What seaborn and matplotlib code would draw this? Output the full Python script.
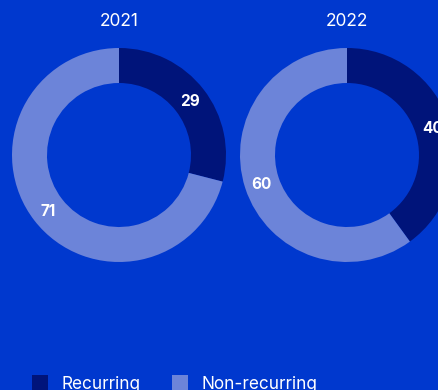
import matplotlib
matplotlib.use("Agg")
import matplotlib.pyplot as plt
from matplotlib.patches import Patch
import seaborn as sns

# Revenue split by year
years = ["2021", "2022"]
categories = ["Recurring", "Non-recurring"]
recurring = [29, 40]
non_recurring = [71, 60]

bg = "#0038CE"
palette = sns.color_palette(["#00147A", "#6C84D9"])

sns.set_theme(style="white", rc={"figure.facecolor": bg, "axes.facecolor": bg})
plt.rcParams["font.family"] = ["Inter", "DejaVu Sans"]

W, H = 439, 390
fig = plt.figure(figsize=(W / 100, H / 100), dpi=100)
ax = fig.add_axes([0, 0, 1, 1])

centers_x = [119, 347]
cy = H - 155
radius = 107
ring = 35

for i, year in enumerate(years):
    vals = [recurring[i], non_recurring[i]]
    wedges, texts, autotexts = ax.pie(
        vals,
        colors=palette,
        startangle=90,
        counterclock=False,
        center=(centers_x[i], cy),
        radius=radius,
        wedgeprops=dict(width=ring, linewidth=0),
        autopct=lambda p: f"{p:.0f}",
        pctdistance=90 / radius,
        textprops=dict(color="white", fontsize=11, fontweight="bold"),
    )
    for t in autotexts:
        t.set_va("center_baseline")
    ax.text(centers_x[i], H - 26, year, ha="center", va="baseline",
            color="white", fontsize=12.5)

ax.set_xlim(0, W)
ax.set_ylim(0, H)
ax.set_aspect("equal")
ax.axis("off")

handles = [Patch(facecolor=c, edgecolor="none") for c in palette]
fig.legend(handles, categories, loc="upper left",
           bbox_to_anchor=(34 / W - 0.012, 1 - 372 / H), ncol=2, frameon=False,
           fontsize=12.4, labelcolor="white", handlelength=0.93, handleheight=0.93,
           handletextpad=0.8, columnspacing=1.78, borderaxespad=0, borderpad=0.2)

fig.savefig("out.png", dpi=100, facecolor=bg)
